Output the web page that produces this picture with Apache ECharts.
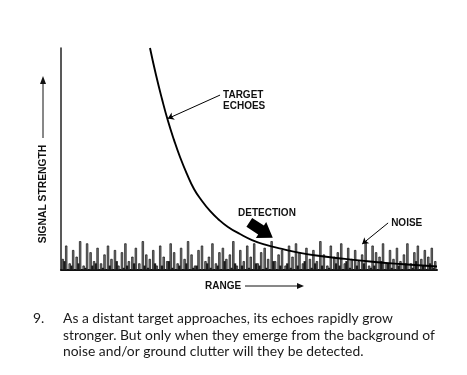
<!DOCTYPE html>
<html><head><meta charset="utf-8">
<script src="https://cdn.jsdelivr.net/npm/echarts/dist/echarts.min.js"></script>
<style>html,body{margin:0;background:#fff}#c{width:467px;height:375px}</style>
</head><body><div id="c"></div>
<script>
// Target echo curve (range units 0..100, signal units 0..100)
const curveX = [23.67, 25.27, 26.86, 28.46, 30.05, 31.65, 33.51, 35.37, 37.5, 39.63, 41.76, 44.41, 47.61, 50.8, 54.52, 58.78, 63.56, 68.88, 75.53, 82.18, 90.16, 100];
const curveY = [100, 87.8, 77.0, 67.1, 58.6, 50.9, 43.2, 36.5, 31.1, 26.6, 23.0, 19.4, 16.2, 13.5, 11.3, 9.5, 7.7, 6.3, 5.0, 3.8, 2.7, 1.6];
// Noise spikes (signal units)
const noise = [5,11,3,9,6,13,2,12,8,4, 10,3,7,11,5,9,2,8,12,4, 6,10,3,13,7,5,9,2,11,6, 4,12,8,3,10,5,13,7,2,9,
  11,4,6,12,3,8,10,5,7,13, 2,9,4,11,6,12,3,8,10,5, 13,4,7,9,2,11,6,12,8,3, 10,5,9,4,13,7,2,11,6,8,
  12,3,10,5,9,4,7,13,2,11, 8,6,12,3,9,5,10,4,7,12, 3,8,11,5,9,6,10,4];
const clutter = [4,0,2,0,3,0,1,0,2,3, 0,1,0,2,0,4,0,1,2,0, 3,0,0,2,1,0,3,0,2,0, 4,1,0,2,0,3,0,1,2,0,
  0,3,1,0,2,0,4,0,1,3, 0,2,0,1,0,3,2,0,1,0, 4,0,2,0,3,1,0,2,0,4, 0,1,3,0,2,0,1,0,3,2,
  0,4,1,0,2,0,3,0,1,2, 0,4,0,3,1,0,2,0,3,0, 1,4,0,2,0,3,1,0];
// Annotations
const annTexts = ['TARGET\nECHOES', 'DETECTION', 'NOISE'];
const annPos = [[43.1, 81.1], [47.1, 27.9], [87.8, 23.4]];
const leaderFrom = [[42.3, 78.8], [87.0, 21.2]];
const leaderTo = [[28.4, 68.2], [80.1, 11.7]];
const detectionArrowAt = [53.2, 18.0];
const yAxisName = 'SIGNAL STRENGTH';
const xAxisName = 'RANGE';
const captionNum = '9.';
const captionLines = [
  'As a distant target approaches, its echoes rapidly grow',
  'stronger. But only when they emerge from the background of',
  'noise and/or ground clutter will they be detected.'
];

const N = noise.length;
const step = 100 / N;
const chart = echarts.init(document.getElementById('c'), null, {renderer: 'canvas'});
const bold = '"Liberation Sans", Arial, sans-serif';

const option = {
  animation: false,
  backgroundColor: '#fff',
  grid: {left: 61, top: 48, right: 30, bottom: 105},
  xAxis: {type: 'value', min: 0, max: 100, axisLine: {lineStyle: {color: '#111', width: 2}},
    axisTick: {show: false}, axisLabel: {show: false}, splitLine: {show: false}},
  yAxis: {type: 'value', min: 0, max: 100, axisLine: {show: true, lineStyle: {color: '#222', width: 1.5}},
    axisTick: {show: false}, axisLabel: {show: false}, splitLine: {show: false}},
  series: [
    {type: 'bar', data: noise.map((v, i) => [(i + 0.5) * step, v]), barWidth: 2.3, barGap: '-100%',
      itemStyle: {color: '#7a7a7a', borderColor: '#111', borderWidth: 0.7}, z: 2},
    {type: 'bar', data: clutter.map((v, i) => [(i + 1) * step, v]), barWidth: 2.3, barGap: '-100%',
      itemStyle: {color: '#1a1a1a'}, z: 2},
    {type: 'line', data: curveX.map((x, i) => [x, curveY[i]]), smooth: 0.5,
      showSymbol: false, lineStyle: {color: '#000', width: 1.9}, z: 5,
      markLine: {silent: true, symbol: ['none', 'arrow'], symbolSize: 6, label: {show: false},
        lineStyle: {color: '#000', width: 1, type: 'solid'},
        data: leaderFrom.map((f, i) => [{coord: f}, {coord: leaderTo[i]}])},
      markPoint: {silent: true, data: [{coord: detectionArrowAt}],
        symbol: 'path://M0,4 L11,4 L11,0 L22,9 L11,18 L11,14 L0,14 Z',
        symbolSize: [28, 19], symbolRotate: -33, itemStyle: {color: '#000'}, label: {show: false}}
    }
  ]
};
chart.setOption(option);

// measure caption font to fit the widest line
const ctx = document.createElement('canvas').getContext('2d');
const capFamily = 'Lato, "Noto Sans", sans-serif';
ctx.font = '13px ' + capFamily;
const w = ctx.measureText(captionLines[1]).width;
const capSize = 13 * 372 / w;

const g = [];
annTexts.forEach((t, i) => {
  const p = chart.convertToPixel({gridIndex: 0}, annPos[i]);
  g.push({type: 'text', left: p[0], top: p[1], style: {text: t, font: 'bold 10px ' + bold, fill: '#111', lineHeight: 11}});
});
g.push({type: 'text', x: 43, y: 194, rotation: Math.PI / 2,
  style: {text: yAxisName, font: 'bold 10.3px ' + bold, fill: '#111', align: 'center', verticalAlign: 'middle'}});
g.push({type: 'line', shape: {x1: 43, y1: 138, x2: 43, y2: 82}, style: {stroke: '#111', lineWidth: 1}});
g.push({type: 'polygon', shape: {points: [[40, 84], [46, 84], [43, 76]]}, style: {fill: '#111'}});
g.push({type: 'text', x: 205, y: 286, style: {text: xAxisName, font: 'bold 10px ' + bold, fill: '#111', verticalAlign: 'middle'}});
g.push({type: 'line', shape: {x1: 245, y1: 286, x2: 299, y2: 286}, style: {stroke: '#111', lineWidth: 1}});
g.push({type: 'polygon', shape: {points: [[297, 283], [297, 289], [304, 286]]}, style: {fill: '#111'}});
g.push({type: 'text', x: 33, y: 319, style: {text: captionNum, font: capSize + 'px ' + capFamily, fill: '#1a1a1a', verticalAlign: 'middle'}});
captionLines.forEach((t, i) => {
  g.push({type: 'text', x: 63, y: 319 + i * 16.5, style: {text: t, font: capSize + 'px ' + capFamily, fill: '#1a1a1a', verticalAlign: 'middle'}});
});
chart.setOption({graphic: g});
</script>
</body></html>
